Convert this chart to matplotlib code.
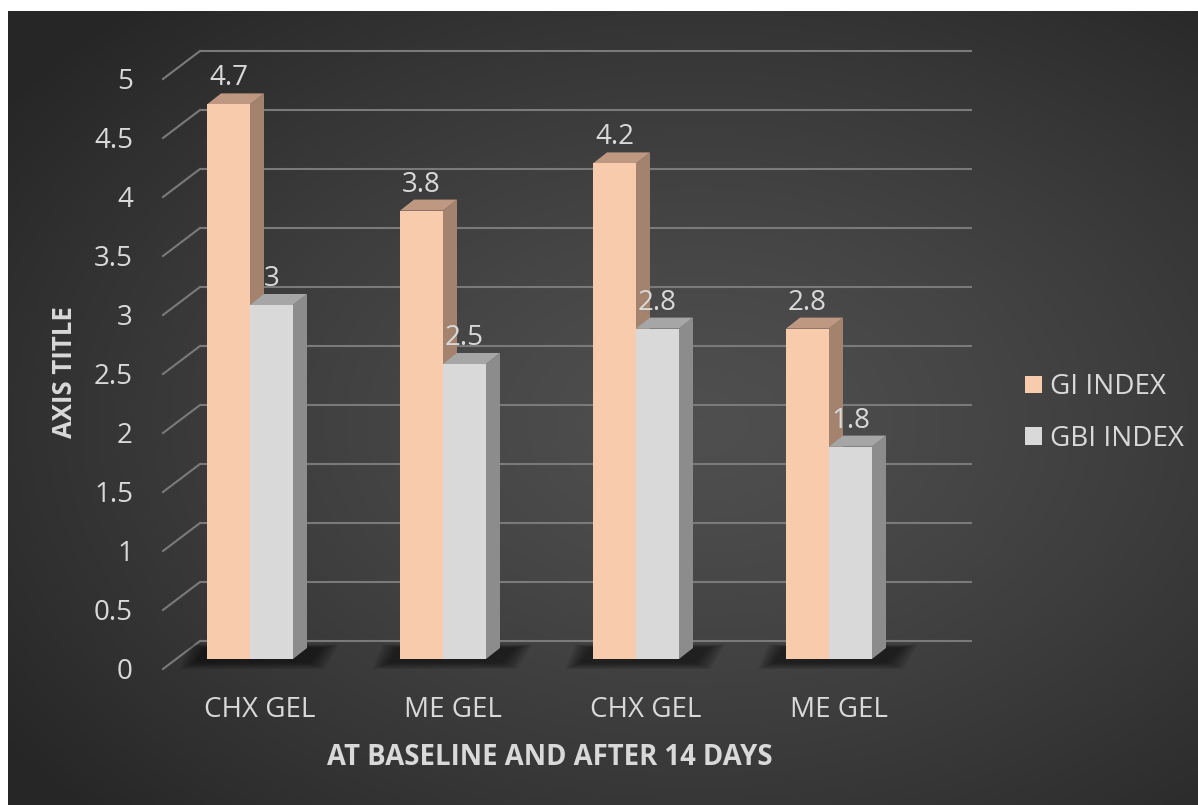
import numpy as np
import matplotlib
matplotlib.use('Agg')
import matplotlib.pyplot as plt
from matplotlib.patches import Polygon, Patch

# ---------------- data ----------------
categories = ['CHX GEL', 'ME GEL', 'CHX GEL', 'ME GEL']
gi_index = [4.7, 3.8, 4.2, 2.8]
gbi_index = [3.0, 2.5, 2.8, 1.8]
series_names = ['GI INDEX', 'GBI INDEX']
y_ticks = [0, 0.5, 1, 1.5, 2, 2.5, 3, 3.5, 4, 4.5, 5]
y_tick_labels = ['0', '0.5', '1', '1.5', '2', '2.5', '3', '3.5', '4', '4.5', '5']
x_title = 'AT BASELINE AND AFTER 14 DAYS'
y_title = 'AXIS TITLE'

# ---------------- style ----------------
W, H = 1198, 805
FONT = 'Open Sans'
TXT = '#d9d9d9'
GRID = '#7a7a7a'
front_cols = ['#f8cbad', '#d9d9d9']
top_cols = ['#bf9882', '#a6a6a6']
side_cols = ['#a3836e', '#8c8c8c']

fig = plt.figure(figsize=(W / 100, H / 100), dpi=100)
fig.patch.set_facecolor('white')

# background with radial gradient
bg = fig.add_axes([8 / W, 0, 1 - 8 / W, 1 - 11 / H])
ny, nx = 300, 450
yy, xx = np.mgrid[0:1:ny * 1j, 0:1:nx * 1j]
r = np.sqrt(((xx - 0.58) / 0.75) ** 2 + ((yy - 0.52) / 0.75) ** 2)
r = np.clip(r / 0.95, 0, 1)
c_center, c_edge = 0.31, 0.15
grad = c_center + (c_edge - c_center) * r ** 1.3
bg.imshow(np.dstack([grad, grad, grad]), extent=[0, 1, 0, 1], aspect='auto', origin='upper')
bg.set_xlim(0, 1)
bg.set_ylim(0, 1)
bg.axis('off')

# main axes: plane of the bar front faces
PXC = 193.0   # pixels per category
PXU = 118.0   # pixels per value unit
X0P = 250.0   # pixel of first category centre
Y0P = 659.0   # pixel row of value 0
axL, axR = 150.0, 1000.0
ax = fig.add_axes([axL / W, 1 - Y0P / H, (axR - axL) / W, 5 * PXU / H])
ax.set_xlim((axL - X0P) / PXC, (axR - X0P) / PXC)
ax.set_ylim(0, 5)
ax.axis('off')
ax.patch.set_alpha(0)

px = 1 / PXC
py = 1 / PXU
# offsets of back wall / front edge relative to bar plane
bx, by = 23.8 * px, 18 * py
fx, fy = -13.2 * px, -10 * py
xw0 = -0.3824
xw1 = xw0 + len(categories)

# gridlines on back wall + diagonal floor/side lines
for v, lab in zip(y_ticks, y_tick_labels):
    ax.plot([xw0 + bx, xw1 + bx], [v + by, v + by], color=GRID, lw=1.5,
            clip_on=False, zorder=1, solid_capstyle='butt')
    ax.plot([xw0 + fx, xw0 + bx], [v + fy, v + by], color=GRID, lw=1.5,
            clip_on=False, zorder=1)
    ax.text(xw0 + fx - 30 * px, v + fy - 3 * py, lab,
            ha='right', va='center', color=TXT, fontsize=20, family=FONT)

# bars
w = 43 * px
ddx, ddy = 14 * px, 11 * py
for i, (g1, g2) in enumerate(zip(gi_index, gbi_index)):
    # soft shadow
    for k in range(8):
        e = (8 - k) * 2.2
        sh = Polygon([(i - w - e * px - 10 * px, -3 * py - e * 0.4 * py),
                      (i + w + ddx + e * px, -3 * py - e * 0.4 * py),
                      (i + w + ddx + e * px + ddx, ddy + e * 0.2 * py),
                      (i - w - e * px, ddy + e * 0.2 * py)],
                     closed=True, facecolor='black', edgecolor='none', alpha=0.08,
                     clip_on=False, zorder=2)
        ax.add_patch(sh)
    for s, (x0, v) in enumerate([(i - w, g1), (i, g2)]):
        side = Polygon([(x0 + w, 0), (x0 + w, v), (x0 + w + ddx, v + ddy), (x0 + w + ddx, ddy)],
                       closed=True, facecolor=side_cols[s], edgecolor='none', clip_on=False, zorder=3)
        top = Polygon([(x0, v), (x0 + w, v), (x0 + w + ddx, v + ddy), (x0 + ddx, v + ddy)],
                      closed=True, facecolor=top_cols[s], edgecolor='none', clip_on=False, zorder=3)
        front = Polygon([(x0, 0), (x0 + w, 0), (x0 + w, v), (x0, v)],
                        closed=True, facecolor=front_cols[s], edgecolor='none', clip_on=False, zorder=3)
        ax.add_patch(side)
        ax.add_patch(top)
        ax.add_patch(front)
        ax.text(x0 + w / 2, v + ddy + 8 * py, f'{v:g}', ha='center', va='baseline',
                color=TXT, fontsize=20, family=FONT, zorder=5)

# category labels
for i, c in enumerate(categories):
    ax.text(xw0 + fx + 0.5 + i, -51 * py, c, ha='center', va='center',
            color=TXT, fontsize=20, family=FONT, clip_on=False)

# axis titles
fig.text(65 / W, 1 - 372 / H, y_title, rotation=90, ha='center', va='center',
         color=TXT, fontsize=18.5, fontweight='bold', family=FONT)
fig.text(550 / W, 1 - 757 / H, x_title, ha='center', va='center',
         color=TXT, fontsize=19.8, fontweight='bold', family=FONT)

# legend
handles = [Patch(facecolor=front_cols[0], edgecolor='none'),
           Patch(facecolor=front_cols[1], edgecolor='none')]
leg = fig.legend(handles, series_names, loc='center left',
                 bbox_to_anchor=(1011 / W, 1 - 413 / H), frameon=False,
                 handlelength=0.6, handleheight=0.6, handletextpad=0.3,
                 labelspacing=0.85, borderpad=0.2, borderaxespad=0.3,
                 prop={'family': FONT, 'size': 20})
for t in leg.get_texts():
    t.set_color(TXT)

fig.savefig('out.png', dpi=100, facecolor=fig.get_facecolor())
